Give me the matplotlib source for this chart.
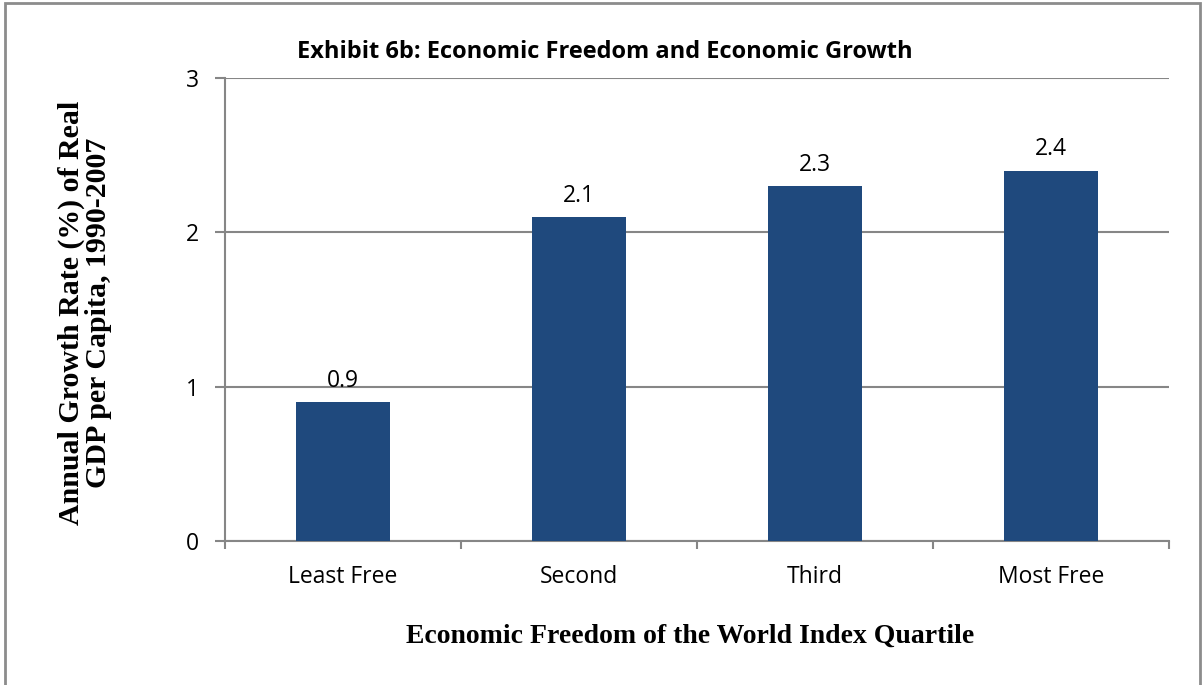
import matplotlib
matplotlib.use("Agg")
import matplotlib.pyplot as plt
from matplotlib.patches import Rectangle

categories = ["Least Free", "Second", "Third", "Most Free"]
growth = [0.9, 2.1, 2.3, 2.4]
yticks = [0, 1, 2, 3]

bar_color = "#1F497D"
grid_color = "#868686"
sans = "Open Sans"
serif = "Liberation Serif"

fig = plt.figure(figsize=(12.02, 6.85), dpi=100)
ax = fig.add_axes([225 / 1202, 1 - 541 / 685, (1169 - 225) / 1202, (541 - 78) / 685])

x = list(range(len(categories)))
ax.bar(x, growth, width=0.395, color=bar_color, zorder=3)
for xi, v in zip(x, growth):
    ax.text(xi, v + 0.06, f"{v:.1f}", ha="center", va="bottom",
            fontsize=16.5, family=sans)

ax.set_xlim(-0.5, len(categories) - 0.5)
ax.set_ylim(0, 3)
ax.set_yticks(yticks)
ax.set_yticklabels([str(t) for t in yticks], family=sans, fontsize=16.5)
ax.yaxis.grid(True, color=grid_color, linewidth=1.5, zorder=0)

# category labels centred, tick marks at the category boundaries
ax.set_xticks(x)
ax.set_xticklabels(categories, family=sans, fontsize=16.5)
ax.tick_params(axis="x", length=0, pad=17)
ax.set_xticks([i - 0.5 for i in range(len(categories) + 1)], minor=True)
ax.tick_params(axis="x", which="minor", length=6, width=1.5, color=grid_color, direction="out")
ax.tick_params(axis="y", length=7, width=1.5, color=grid_color, pad=12)

for side in ["top", "right"]:
    ax.spines[side].set_visible(False)
for side in ["left", "bottom"]:
    ax.spines[side].set_color(grid_color)
    ax.spines[side].set_linewidth(1.5)

fig.text(605 / 1202, 1 - 52 / 685, "Exhibit 6b: Economic Freedom and Economic Growth",
         ha="center", va="center", fontsize=17, fontweight="bold", family=sans)
fig.text(85 / 1202, 1 - 313 / 685,
         "Annual Growth Rate (%) of Real\nGDP per Capita, 1990-2007",
         ha="center", va="center", rotation=90, fontsize=21.5, fontweight="bold",
         family=serif, linespacing=1.0)
fig.text(690 / 1202, 1 - 636 / 685, "Economic Freedom of the World Index Quartile",
         ha="center", va="center", fontsize=20, fontweight="bold", family=serif)

# outer chart-area border
fig.patches.append(Rectangle((5 / 1202, -0.01), (1200 - 5) / 1202, 1 - 3 / 685 + 0.01,
                             transform=fig.transFigure, fill=False,
                             edgecolor="#8C8C8C", linewidth=2))

fig.savefig("out.png", dpi=100)
